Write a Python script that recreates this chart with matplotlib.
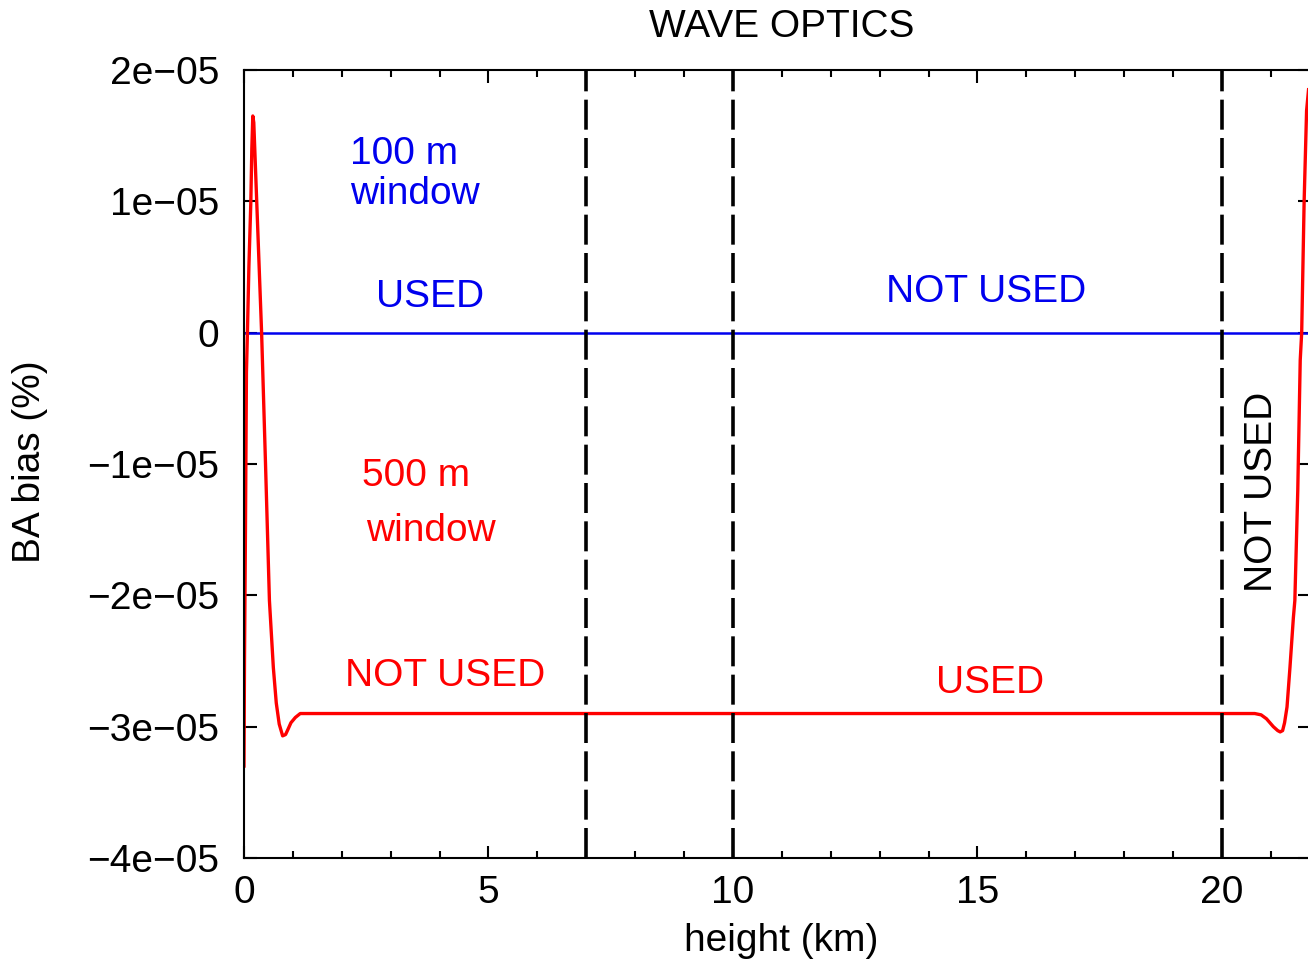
import matplotlib
matplotlib.use('Agg')
import matplotlib.pyplot as plt

plt.rcParams['font.family'] = ['Liberation Sans', 'DejaVu Sans']
plt.rcParams['lines.scale_dashes'] = False

# red curve: 500 m window bias (values in 1e-5 %)
h_500 = [0.0, 0.01, 0.03, 0.05, 0.07, 0.10, 0.14, 0.16, 0.18, 0.20, 0.23, 0.26,
         0.31, 0.36, 0.44, 0.52, 0.60, 0.66, 0.72, 0.79, 0.85, 0.90, 0.96, 1.05,
         1.15, 1.35, 5.0, 10.0, 15.0, 20.0, 20.67, 20.80, 20.91, 21.05, 21.14,
         21.19, 21.24, 21.28, 21.33, 21.39, 21.46, 21.49, 21.55, 21.60, 21.63,
         21.68, 21.73, 21.77]
bias_500 = [-3.3, -2.5, -1.5, -0.3, 0.0, 0.5, 1.0, 1.4, 1.65, 1.6, 1.3, 1.0,
            0.5, 0.0, -1.0, -2.04, -2.55, -2.82, -2.98, -3.07, -3.06, -3.02, -2.97, -2.93,
            -2.90, -2.90, -2.90, -2.90, -2.90, -2.90, -2.90, -2.91, -2.94, -3.0, -3.03,
            -3.04, -3.03, -2.97, -2.85, -2.55, -2.17, -2.04, -1.2, -0.21, 0.0,
            1.0, 1.69, 1.85]
# blue line: 100 m window bias
h_100 = [0.0, 21.8]
bias_100 = [0.0, 0.0]

boundaries = [7, 10, 20]
yticks = [-4e-05, -3e-05, -2e-05, -1e-05, 0, 1e-05, 2e-05]
ytick_labels = ['\u22124e\u221205', '\u22123e\u221205', '\u22122e\u221205',
                '\u22121e\u221205', '0', '1e\u221205', '2e\u221205']
xticks = [0, 5, 10, 15, 20]

fs = 28
blue = '#0000ee'
red = '#ff0000'

fig = plt.figure(figsize=(13.08, 9.64), dpi=100)
ax = fig.add_axes([244 / 1308, 106 / 964, 1066 / 1308, 788 / 964])

ax.plot(h_100, bias_100, color=blue, lw=1.8)
ax.plot(h_500, [b * 1e-5 for b in bias_500], color=red, lw=2.4)
for b in boundaries:
    ax.axvline(b, color='black', lw=2.6, dashes=(21.6, 6))

ax.set_xlim(0, 21.8)
ax.set_ylim(-4e-05, 2e-05)
ax.set_xticks(xticks)
ax.set_xticks(range(0, 22), minor=True)
ax.set_yticks(yticks)
ax.set_yticklabels(ytick_labels)
ax.tick_params(which='both', direction='in', top=True, right=True, labelsize=fs, width=1.5)
ax.tick_params(which='major', length=9)
ax.tick_params(which='minor', length=5)
ax.tick_params(axis='y', pad=18)
ax.tick_params(axis='x', pad=12)
for s in ax.spines.values():
    s.set_linewidth(1.5)

ax.text(2.17, 1.287e-5, '100 m', color=blue, fontsize=fs, ha='left', va='baseline')
ax.text(2.17, 0.982e-5, 'window', color=blue, fontsize=fs, ha='left', va='baseline')
ax.text(3.80, 0.198e-5, 'USED', color=blue, fontsize=fs, ha='center', va='baseline')
ax.text(15.17, 0.236e-5, 'NOT USED', color=blue, fontsize=fs, ha='center', va='baseline')
ax.text(2.41, -1.165e-5, '500 m', color=red, fontsize=fs, ha='left', va='baseline')
ax.text(2.49, -1.584e-5, 'window', color=red, fontsize=fs, ha='left', va='baseline')
ax.text(4.11, -2.689e-5, 'NOT USED', color=red, fontsize=fs, ha='center', va='baseline')
ax.text(15.26, -2.742e-5, 'USED', color=red, fontsize=fs, ha='center', va='baseline')
ax.text(20.82, -1.211e-5, 'NOT USED', color='black', fontsize=fs, ha='center', va='center',
        rotation=90)

fig.text(782 / 1308, 1 - 37 / 964, 'WAVE OPTICS', fontsize=fs, ha='center', va='baseline')
fig.text(781 / 1308, 1 - 951 / 964, 'height (km)', fontsize=fs, ha='center', va='baseline')
fig.text(30 / 1308, 1 - 462 / 964, 'BA bias (%)', fontsize=fs, ha='center', va='center',
         rotation=90)

fig.savefig('out.png', dpi=100)
